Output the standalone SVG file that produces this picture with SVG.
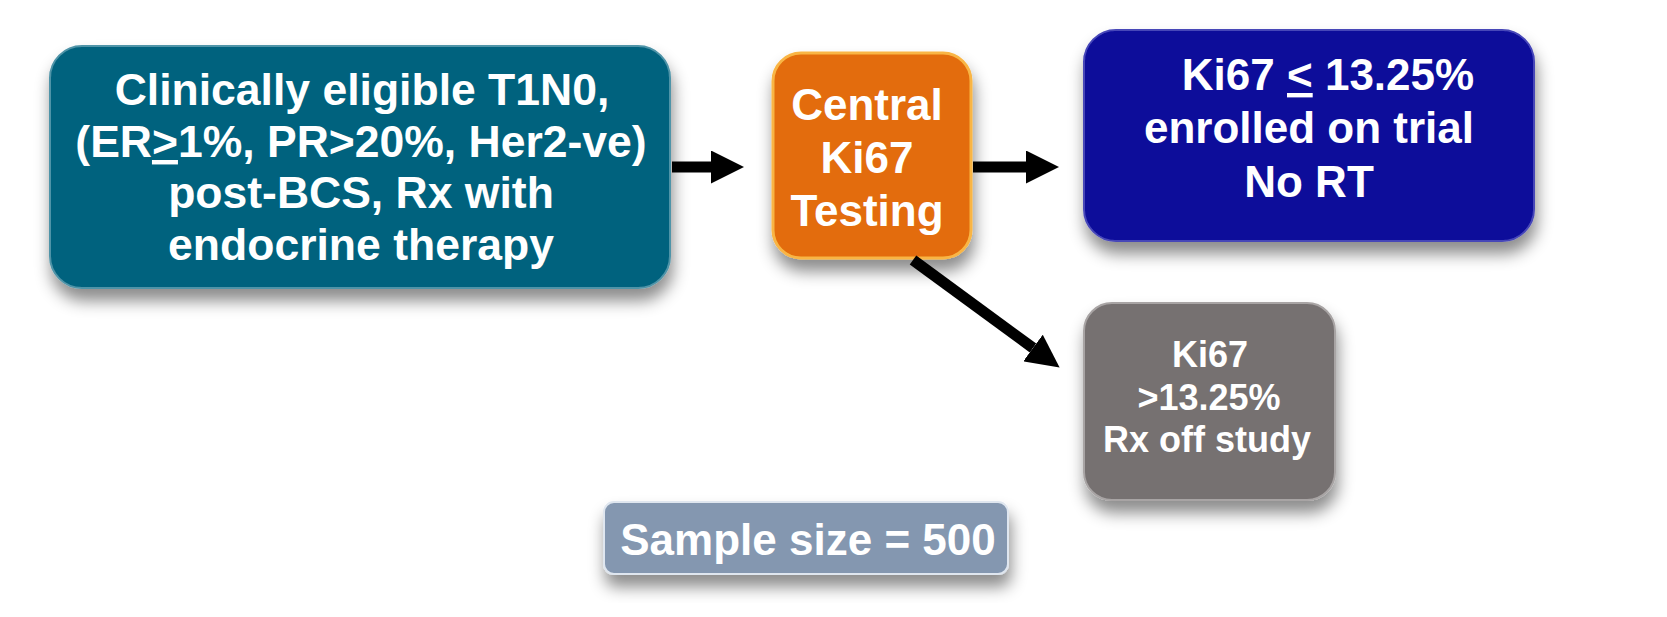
<svg xmlns="http://www.w3.org/2000/svg" width="1667" height="617" viewBox="0 0 1667 617">
<style>
.t{font-family:"Liberation Sans",Arial,Helvetica,sans-serif;font-weight:bold;fill:#ffffff;text-anchor:middle}
.box{filter:url(#sh)}
.conn line{stroke:#000;stroke-width:11;marker-end:url(#ah)}
</style>
<defs>
<filter id="sh" x="-20%" y="-20%" width="140%" height="160%">
<feDropShadow dx="2" dy="12" stdDeviation="8" flood-color="#000" flood-opacity="0.45"/>
</filter>
<marker id="ah" viewBox="0 0 10 10" refX="0" refY="5" markerWidth="33" markerHeight="33" orient="auto" markerUnits="userSpaceOnUse">
<path d="M0,0 L10,5 L0,10 z" fill="#000"/>
</marker>
</defs>
<rect width="1667" height="617" fill="#ffffff"/>

<g id="node-eligible">
<rect class="box" x="50" y="46" width="620" height="242" rx="32" fill="#03627E" stroke="#4f94a8" stroke-width="2"/>
<text class="t" font-size="44.5"><tspan x="362" y="105">Clinically eligible T1N0,</tspan><tspan x="361" y="157">(ER<tspan text-decoration="underline">&gt;</tspan>1%, PR&gt;20%, Her2-ve)</tspan><tspan x="361" y="208">post-BCS, Rx with</tspan><tspan x="361" y="260">endocrine therapy</tspan></text>
</g>

<g id="node-central">
<rect class="box" x="773" y="53" width="198" height="205" rx="28" fill="#E36C09" stroke="#F9B545" stroke-width="3"/>
<text class="t" font-size="44"><tspan x="867" y="120">Central</tspan><tspan x="867" y="173">Ki67</tspan><tspan x="867" y="226">Testing</tspan></text>
</g>

<g id="node-enrolled">
<rect class="box" x="1084" y="30" width="450" height="211" rx="32" fill="#0A0A9A" stroke="#4646b8" stroke-width="2"/>
<text class="t" font-size="44"><tspan x="1328" y="90">Ki67 <tspan text-decoration="underline">&lt;</tspan> 13.25%</tspan><tspan x="1309" y="143">enrolled on trial</tspan><tspan x="1309" y="197">No RT</tspan></text>
</g>

<g id="node-offstudy">
<rect class="box" x="1084" y="303" width="251" height="197" rx="28" fill="#767171" stroke="#a8a4a4" stroke-width="2"/>
<text class="t" font-size="36"><tspan x="1210" y="367">Ki67</tspan><tspan x="1209" y="410">&gt;13.25%</tspan><tspan x="1207" y="452">Rx off study</tspan></text>
</g>

<g id="node-sample">
<rect class="box" x="604" y="502" width="404" height="72" rx="10" fill="#8497B0" stroke="#dfe6ef" stroke-width="2"/>
<text class="t" font-size="44" x="808" y="555">Sample size = 500</text>
</g>

<g id="connectors" class="conn">
<line x1="672" y1="167" x2="711" y2="167"/>
<line x1="973" y1="167" x2="1026" y2="167"/>
<line x1="913" y1="260" x2="1033" y2="348"/>
</g>
</svg>
